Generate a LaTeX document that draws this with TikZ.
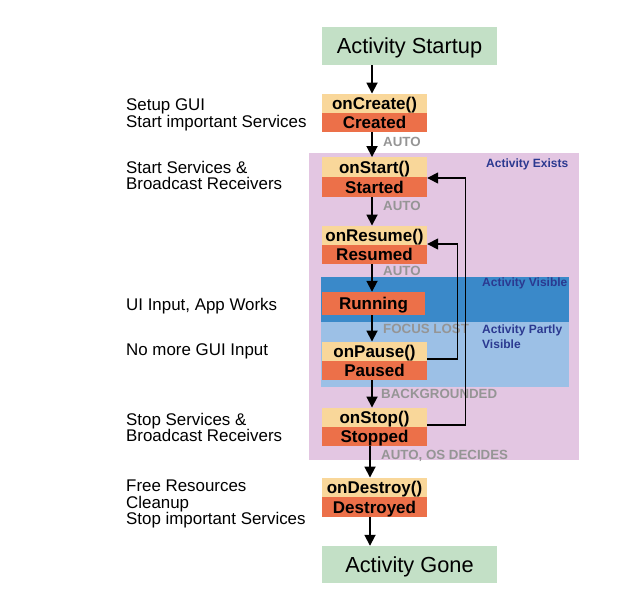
\documentclass[tikz,border=0pt]{standalone}
\usepackage{fontspec}
\setmainfont{Liberation Sans}
\usetikzlibrary{arrows.meta}
\definecolor{startgreen}{HTML}{C3E0C6}
\definecolor{peach}{HTML}{F9D79A}
\definecolor{tomato}{HTML}{EC7049}
\definecolor{purp}{HTML}{E3C6E2}
\definecolor{dblue}{HTML}{3A89C9}
\definecolor{lblue}{HTML}{9CC0E6}
\definecolor{labblue}{HTML}{2B3990}
\definecolor{trans}{HTML}{959595}
\begin{document}
\begin{tikzpicture}[x=1pt,y=-1pt,
  endbox/.style={fill=startgreen, minimum width=175pt, minimum height=38pt, inner sep=0pt, text height=15.6pt, text depth=0pt, font=\fontsize{21.8}{24}\selectfont},
  callbox/.style={fill=peach, minimum width=105pt, minimum height=19.5pt, inner sep=0pt, text height=12.2pt, text depth=0pt, font=\bfseries\fontsize{17}{18}\selectfont},
  statebox/.style={fill=tomato, minimum width=105pt, minimum height=19.5pt, inner sep=0pt, text height=12.2pt, text depth=0pt, font=\bfseries\fontsize{17}{18}\selectfont},
  trlab/.style={anchor=west, inner sep=0pt, text=trans, text height=9.5pt, text depth=0pt, font=\bfseries\fontsize{13.3}{15}\selectfont},
  reglab/.style={anchor=north west, inner sep=0pt, text=labblue, align=left, font=\bfseries\fontsize{12}{15}\selectfont},
  note/.style={anchor=west, inner sep=0pt, align=left, font=\fontsize{16.9}{16.8}\selectfont},
  arr/.style={line width=1.8pt, -{Triangle[width=11pt,length=11pt]}},
  back/.style={line width=1.5pt, -{Triangle[width=11pt,length=11pt]}}
]
\useasboundingbox (0,0) rectangle (631,609);
% regions
\fill[purp] (309,153) rectangle (579,460);
\fill[dblue] (321,277) rectangle (569,322);
\fill[lblue] (321,322) rectangle (569,387);
\node[reglab] (rx) at (486,158.5) {Activity Exists};
\node[reglab] (rv) at (482,278) {Activity Visible};
\node[reglab] (rp) at (482,324.5) {Activity Partly\\Visible};
% boxes
\node[endbox] (start) at (409.5,46) {Activity Startup};
\node[callbox] (cre) at (374.5,103.5) {onCreate()};
\node[statebox] (creS) at (374.5,122.5) {Created};
\node[callbox] (sta) at (374.5,167) {onStart()};
\node[statebox] (staS) at (374.5,187) {Started};
\node[callbox] (res) at (374.5,235.5) {onResume()};
\node[statebox] (resS) at (374.5,254.5) {Resumed};
\node[statebox, minimum width=103pt, minimum height=23pt] (run) at (373.5,303.5) {Running};
\node[callbox] (pau) at (374.5,351.5) {onPause()};
\node[statebox] (pauS) at (374.5,370.5) {Paused};
\node[callbox] (sto) at (374.5,417.5) {onStop()};
\node[statebox] (stoS) at (374.5,436.5) {Stopped};
\node[callbox] (des) at (374.5,487.5) {onDestroy()};
\node[statebox] (desS) at (374.5,507) {Destroyed};
\node[endbox, minimum height=37pt] (gone) at (409.5,564.5) {Activity Gone};
% forward arrows
\draw[arr] ([xshift=-2.5pt]cre.north |- start.south) -- ([xshift=-2.5pt]cre.north);
\draw[arr] ([xshift=-2.5pt]creS.south) -- ([xshift=-2.5pt]sta.north);
\draw[arr] ([xshift=-2.5pt]staS.south) -- ([xshift=-2.5pt]res.north);
\draw[arr] ([xshift=-2.5pt]resS.south) -- ([xshift=-1.5pt]run.north);
\draw[arr] ([xshift=-1.5pt]run.south) -- ([xshift=-2.5pt]pau.north);
\draw[arr] ([xshift=-2.5pt]pauS.south) -- ([xshift=-2.5pt]sto.north);
\draw[arr] ([xshift=-4.5pt]stoS.south) -- ([xshift=-4.5pt]des.north);
\draw[arr] ([xshift=-4.5pt]desS.south) -- ([xshift=-4.5pt]desS.south |- gone.north);
% transition labels
\node[trlab] (t1) at (383,142) {AUTO};
\node[trlab] (t2) at (383,205.5) {AUTO};
\node[trlab] (t3) at (383,271) {AUTO};
\node[trlab] (t4) at (383,328.5) {FOCUS LOST};
\node[trlab] (t5) at (381,393.5) {BACKGROUNDED};
\node[trlab] (t6) at (381,454.5) {AUTO, OS DECIDES};
% back arrows
\coordinate (p1) at (457.5,359);
\coordinate (p2) at (457.5,244);
\coordinate (s1) at (465.5,425);
\coordinate (s2) at (465.5,178);
\draw[back] (pau.east |- p1) -- (p1) -- (p2) -- (res.east |- p2);
\draw[back] (sto.east |- s1) -- (s1) -- (s2) -- (sta.east |- s2);
% notes
\node[note] (n1) at (126,114.5) {Setup GUI\\Start important Services};
\node[note] (n2) at (126,175.5) {Start Services \&\\Broadcast Receivers};
\node[note] (n3) at (126,306) {UI Input, App Works};
\node[note] (n4) at (126,351.5) {No more GUI Input};
\node[note] (n5) at (126,427.5) {Stop Services \&\\Broadcast Receivers};
\node[note] (n6) at (126,504) {Free Resources\\Cleanup\\Stop important Services};
\end{tikzpicture}
\end{document}
